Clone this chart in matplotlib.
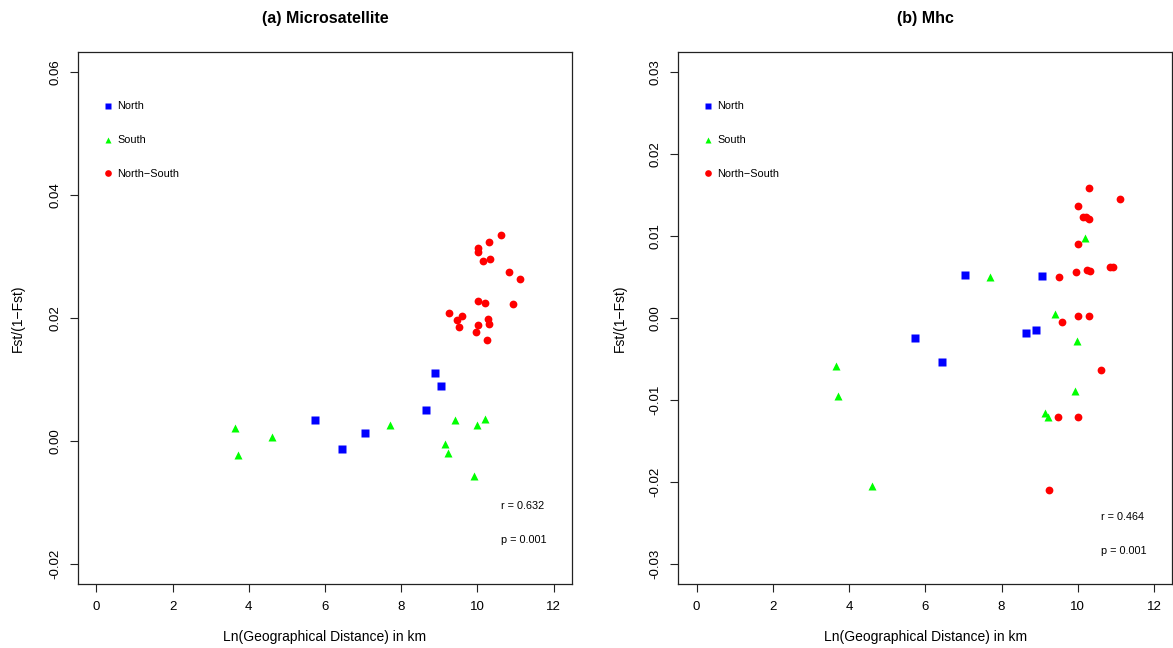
import matplotlib
matplotlib.use("Agg")
import matplotlib.pyplot as plt
from matplotlib.lines import Line2D

plt.rcParams['font.family'] = ['Liberation Sans', 'DejaVu Sans']

# ---------------- data: panel (a) Microsatellite ----------------
a_north_x = [5.75, 6.45, 7.06, 8.66, 8.89, 9.05]
a_north_y = [0.0034, -0.0013, 0.0014, 0.0050, 0.0110, 0.0089]

a_south_x = [3.65, 3.72, 4.61, 7.70, 9.40, 10.19, 9.99, 9.14, 9.22, 9.92]
a_south_y = [0.0022, -0.0022, 0.0006, 0.0027, 0.0034, 0.0036, 0.0026, -0.0004, -0.0020, -0.0057]

a_ns_x = [10.61, 10.30, 10.01, 10.01, 10.32, 10.14, 10.84, 11.11, 10.01, 10.20,
          10.92, 9.24, 9.59, 9.47, 9.51, 10.28, 10.29, 10.02, 9.96, 10.24]
a_ns_y = [0.0335, 0.0323, 0.0314, 0.0307, 0.0296, 0.0293, 0.0274, 0.0264, 0.0228, 0.0224,
          0.0222, 0.0208, 0.0204, 0.0196, 0.0186, 0.0199, 0.0190, 0.0189, 0.0177, 0.0164]

# ---------------- data: panel (b) Mhc ----------------
b_north_x = [7.05, 9.07, 5.74, 6.45, 8.65, 8.91]
b_north_y = [0.0052, 0.0051, -0.0024, -0.0054, -0.0018, -0.0015]

b_south_x = [7.70, 10.19, 9.40, 9.98, 3.65, 3.72, 9.92, 9.13, 9.22, 4.61]
b_south_y = [0.0050, 0.0097, 0.0005, -0.0028, -0.0059, -0.0095, -0.0089, -0.0116, -0.0120, -0.0205]

b_ns_x = [10.29, 11.11, 10.00, 10.14, 10.22, 10.29, 10.01, 9.95, 10.23, 10.32,
          10.84, 10.93, 9.51, 10.01, 10.30, 9.59, 10.60, 9.47, 10.01, 9.24]
b_ns_y = [0.0158, 0.0145, 0.0136, 0.0123, 0.0123, 0.0121, 0.0090, 0.0056, 0.0058, 0.0057,
          0.0062, 0.0062, 0.0050, 0.0002, 0.0002, -0.0005, -0.0063, -0.0121, -0.0120, -0.0210]

titles = ["(a) Microsatellite", "(b) Mhc"]
stats = [("r = 0.632", "p = 0.001"), ("r = 0.464", "p = 0.001")]
group_labels = ["North", "South", "North\u2212South"]
x_ticks = [0, 2, 4, 6, 8, 10, 12]
a_y_ticks = [-0.02, 0.00, 0.02, 0.04, 0.06]
b_y_ticks = [-0.03, -0.02, -0.01, 0.00, 0.01, 0.02, 0.03]

W, H = 1173, 648
fig = plt.figure(figsize=(W / 100, H / 100), dpi=100)

def px_rect(x0, y0, x1, y1):
    return [x0 / W, 1 - y1 / H, (x1 - x0) / W, (y1 - y0) / H]

ax1 = fig.add_axes(px_rect(78, 52, 572, 584))
ax2 = fig.add_axes(px_rect(678.3, 52, 1172.3, 584))

panels = [
    (ax1, (a_north_x, a_north_y), (a_south_x, a_south_y), (a_ns_x, a_ns_y),
     a_y_ticks, (-0.0232, 0.0632), ["-0.02", "0.00", "0.02", "0.04", "0.06"],
     (0.856, 0.147, 0.083)),
    (ax2, (b_north_x, b_north_y), (b_south_x, b_south_y), (b_ns_x, b_ns_y),
     b_y_ticks, (-0.0324, 0.0324), ["-0.03", "-0.02", "-0.01", "0.00", "0.01", "0.02", "0.03"],
     (0.856, 0.126, 0.062)),
]

BLUE, GREEN, RED = "#0000FF", "#00FF00", "#FF0000"

for i, (ax, n, s, ns, yt, ylim, ytl, spos) in enumerate(panels):
    ax.plot(n[0], n[1], linestyle='none', marker='s', ms=5.2, color=BLUE, mec='none')
    ax.plot(s[0], s[1], linestyle='none', marker='^', ms=6.0, color=GREEN, mec='none')
    ax.plot(ns[0], ns[1], linestyle='none', marker='o', ms=5.6, color=RED, mec='none')
    ax.set_xlim(-0.48, 12.48)
    ax.set_ylim(*ylim)
    ax.set_xticks(x_ticks)
    ax.set_xticklabels([str(t) for t in x_ticks])
    ax.set_yticks(yt)
    ax.set_yticklabels(ytl, rotation=90, va='center')
    ax.tick_params(axis='both', direction='out', length=6, width=0.8, labelsize=9.5, color='#222222')
    ax.tick_params(axis='x', pad=6)
    ax.tick_params(axis='y', pad=6)
    for sp in ax.spines.values():
        sp.set_linewidth(0.9)
        sp.set_color('#222222')

    handles = [
        Line2D([], [], linestyle='none', marker='s', ms=4.2, color=BLUE, mec='none'),
        Line2D([], [], linestyle='none', marker='^', ms=5.0, color=GREEN, mec='none'),
        Line2D([], [], linestyle='none', marker='o', ms=4.8, color=RED, mec='none'),
    ]
    ax.legend(handles, group_labels, loc='upper left', bbox_to_anchor=(0.052, 0.907),
              frameon=False, fontsize=7.8, handlelength=0.8, handletextpad=0.45,
              labelspacing=2.2, borderpad=0, borderaxespad=0)

    ax.text(spos[0], spos[1], stats[i][0], transform=ax.transAxes, fontsize=7.8,
            ha='left', va='center')
    ax.text(spos[0], spos[2], stats[i][1], transform=ax.transAxes, fontsize=7.8,
            ha='left', va='center')

    # titles and axis labels
    bb = ax.get_position()
    cx = (bb.x0 + bb.x1) / 2
    fig.text(cx, 1 - 18 / H, titles[i], ha='center', va='center', fontsize=11.5, fontweight='bold')
    fig.text(cx, 1 - 637 / H, "Ln(Geographical Distance) in km", ha='center', va='center', fontsize=10)
    ylab_x = 18 / W if i == 0 else 620 / W
    fig.text(ylab_x, (bb.y0 + bb.y1) / 2, "Fst/(1\u2212Fst)", ha='center', va='center',
             rotation=90, fontsize=10)

fig.savefig("out.png", dpi=100)
